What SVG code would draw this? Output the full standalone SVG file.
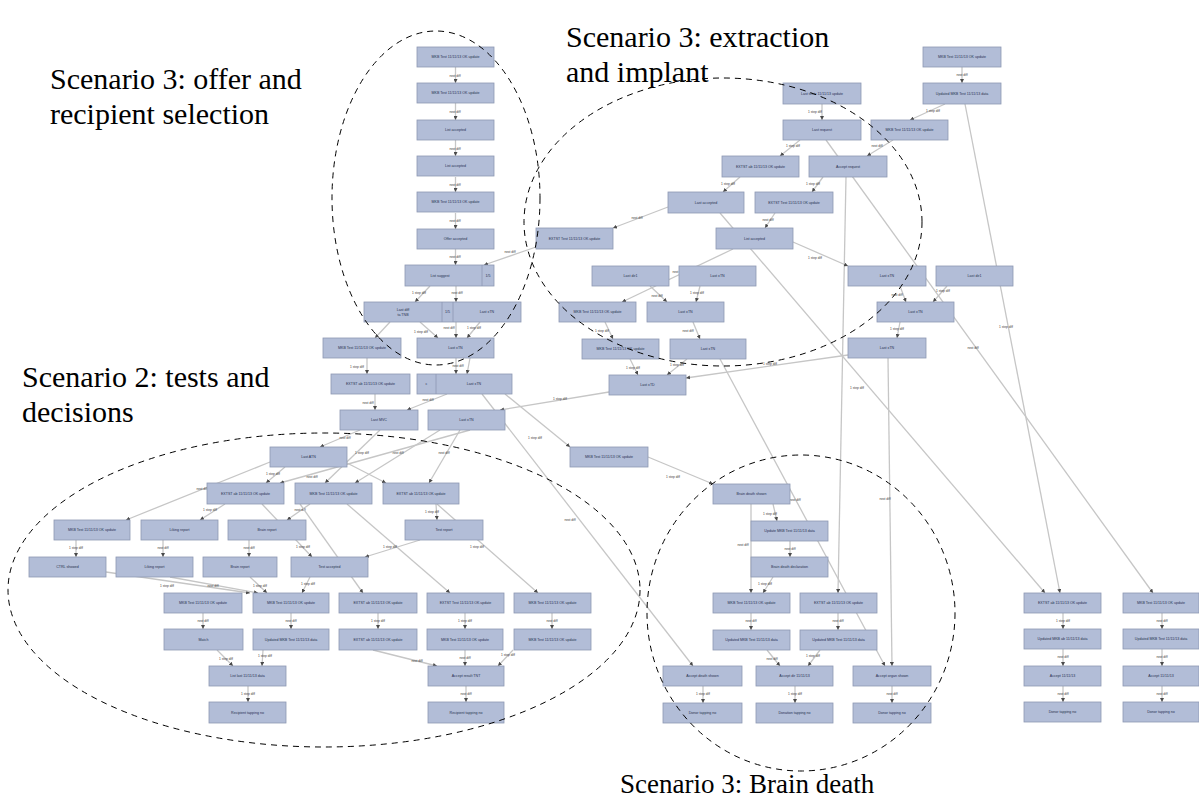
<svg xmlns="http://www.w3.org/2000/svg" width="1199" height="805" viewBox="0 0 1199 805">
<defs>
<marker id="a" viewBox="0 0 6 6" refX="6" refY="3" markerWidth="4" markerHeight="4" orient="auto" markerUnits="userSpaceOnUse"><path d="M0,0 L6,3 L0,6 z" fill="#4a4a4a"/></marker>
<style>
.n rect{fill:#b2bdd7;stroke:#8d98b2;stroke-width:0.8}
.n line{stroke:#8d98b2;stroke-width:0.8}
.n text{font-family:"Liberation Sans",Arial,sans-serif;font-size:3.6px;fill:#26304f;text-anchor:middle}
.e path{stroke:#c6c6c6;stroke-width:1.3;fill:none;marker-end:url(#a)}
.e text{font-family:"Liberation Sans",Arial,sans-serif;font-size:3.2px;fill:#3a3a3a;text-anchor:middle}
.g{fill:none;stroke:#000;stroke-width:1;stroke-dasharray:6,5}
.t{font-family:"Liberation Serif","Times New Roman",serif;font-size:30px;fill:#000}
</style>
</defs>
<rect width="1199" height="805" fill="#fff"/>

<g id="connectors" class="e">
<path d="M455.5,67 L455.5,83"/><text x="455" y="77">next diff</text>
<path d="M455.5,103 L455.5,120"/><text x="455" y="113">next diff</text>
<path d="M455.5,140 L455.5,156"/><text x="455" y="150">next diff</text>
<path d="M455.5,177 L455.5,192"/><text x="455" y="186">next diff</text>
<path d="M455.5,213 L455.5,229"/><text x="455" y="222">next diff</text>
<path d="M455.5,249 L455.5,265"/><text x="455" y="258">next diff</text>
<path d="M430,286 L415,302"/><text x="419" y="294">1 step diff</text>
<path d="M456,286 L456,302"/><text x="457" y="294">next diff</text>
<path d="M536,247 L484,265"/><text x="510" y="253">next diff</text>
<path d="M390,322 L375,338"/>
<path d="M420,322 L438,338"/><text x="421" y="333">1 step diff</text>
<path d="M456,322 L456,338"/><text x="449" y="329">next diff</text>
<path d="M480,322 L467,338"/><text x="474" y="329">1 step diff</text>
<path d="M367,358 L367,374"/><text x="357" y="368">1 step diff</text>
<path d="M456,358 L456,374"/><text x="458" y="367">next diff</text>
<path d="M470,358 L467,374"/>
<path d="M375,394 L375,410"/><text x="368" y="404">next diff</text>
<path d="M447,394 L407,410"/><text x="428" y="401">next diff</text>
<path d="M505,394 L570,447"/><text x="535" y="439">1 step diff</text>
<path d="M482,394 L693,666"/><text x="570" y="521">next diff</text>
<path d="M609,392 L500,410"/><text x="560" y="400">1 step diff</text>
<path d="M360,430 L320,447"/><text x="345" y="439">next diff</text>
<path d="M380,430 L325,483"/><text x="362" y="454">1 step diff</text>
<path d="M440,430 L355,483"/><text x="398" y="454">next diff</text>
<path d="M460,430 L429,483"/><text x="444" y="454">next diff</text>
<path d="M470,430 L280,483"/><text x="312" y="478">next diff</text>
<path d="M285,467 L266,483"/><text x="273" y="475">1 step diff</text>
<path d="M347,463 L386,483"/>
<path d="M270,462 L126,520"/><text x="202" y="490">next diff</text>
<path d="M225,504 L200,520"/><text x="210" y="511">1 step diff</text>
<path d="M310,504 L287,520"/><text x="300" y="511">next diff</text>
<path d="M262,504 L312,557"/><text x="303" y="548">1 step diff</text>
<path d="M300,504 L363,593"/>
<path d="M347,504 L450,593"/>
<path d="M436,504 L437,520"/><text x="432" y="513">1 step diff</text>
<path d="M437,504 L538,593"/><text x="477" y="548">1 step diff</text>
<path d="M76,540 L76,557"/><text x="76" y="549">1 step diff</text>
<path d="M163,540 L163,557"/><text x="163" y="549">next diff</text>
<path d="M249,540 L249,557"/><text x="249" y="549">next diff</text>
<path d="M420,540 L365,557"/><text x="390" y="548">1 step diff</text>
<path d="M106,572 L250,593"/><text x="167" y="587">1 step diff</text>
<path d="M170,577 L258,593"/><text x="213" y="587">next diff</text>
<path d="M250,577 L267,593"/><text x="260" y="587">1 step diff</text>
<path d="M310,577 L302,593"/><text x="308" y="585">1 step diff</text>
<path d="M203,613 L203,629"/><text x="203" y="622">next diff</text>
<path d="M291,613 L291,629"/><text x="291" y="622">next diff</text>
<path d="M378,613 L378,629"/><text x="378" y="622">1 step diff</text>
<path d="M465,613 L465,629"/><text x="465" y="622">1 step diff</text>
<path d="M552,613 L552,629"/><text x="552" y="622">next diff</text>
<path d="M217,650 L233,666"/><text x="226" y="660">1 step diff</text>
<path d="M263,650 L262,666"/><text x="265" y="657">1 step diff</text>
<path d="M373,650 L437,666"/><text x="417" y="662">next diff</text>
<path d="M465,650 L465,666"/><text x="465" y="659">next diff</text>
<path d="M513,650 L498,666"/><text x="508" y="656">1 step diff</text>
<path d="M248,686 L248,702"/><text x="248" y="695">1 step diff</text>
<path d="M466,686 L466,702"/><text x="466" y="695">next diff</text>

<path d="M962,67 L962,83"/><text x="962" y="76">next diff</text>
<path d="M945,104 L910,120"/><text x="933" y="112">1 step diff</text>
<path d="M965,104 L1060,593"/><text x="1006" y="328">1 step diff</text>
<path d="M822,104 L822,120"/><text x="815" y="113">1 step diff</text>
<path d="M800,140 L780,156"/><text x="793" y="147">1 step diff</text>
<path d="M893,140 L867,156"/><text x="877" y="147">next diff</text>
<path d="M826,140 L1153,593"/><text x="973" y="349">next diff</text>
<path d="M740,177 L723,192"/><text x="728" y="185">1 step diff</text>
<path d="M823,177 L812,192"/><text x="813" y="185">1 step diff</text>
<path d="M846,177 L838,593"/><text x="857" y="389">1 step diff</text>
<path d="M668,207 L613,228"/><text x="637" y="219">next diff</text>
<path d="M775,213 L765,228"/><text x="768" y="221">next diff</text>
<path d="M720,213 L1045,593"/>
<path d="M733,249 L622,302"/><text x="678" y="273">next diff</text>
<path d="M650,286 L667,302"/><text x="657" y="297">next diff</text>
<path d="M700,286 L696,302"/><text x="697" y="294">1 step diff</text>
<path d="M605,322 L613,339"/><text x="602" y="332">1 step diff</text>
<path d="M693,322 L700,339"/><text x="688" y="332">next diff</text>
<path d="M630,359 L638,375"/><text x="633" y="369">1 step diff</text>
<path d="M687,359 L667,375"/><text x="677" y="366">1 step diff</text>
<path d="M720,359 L885,666"/><text x="795" y="501">next diff</text>
<path d="M793,242 L848,266"/><text x="815" y="259">1 step diff</text>
<path d="M900,286 L906,302"/><text x="897" y="296">next diff</text>
<path d="M947,286 L933,302"/><text x="943" y="292">1 step diff</text>
<path d="M900,322 L897,338"/><text x="897" y="330">1 step diff</text>
<path d="M848,355 L686,378"/><text x="770" y="365">1 step diff</text>
<path d="M888,358 L892,666"/><text x="885" y="500">next diff</text>
<path d="M648,457 L713,484"/><text x="673" y="478">1 step diff</text>
<path d="M773,504 L777,521"/><text x="770" y="515">1 step diff</text>
<path d="M751,504 L751,593"/><text x="743" y="546">next diff</text>
<path d="M790,541 L790,557"/><text x="790" y="550">next diff</text>
<path d="M773,577 L763,593"/><text x="765" y="585">1 step diff</text>
<path d="M751,613 L751,630"/><text x="751" y="622">next diff</text>
<path d="M838,613 L838,630"/><text x="838" y="622">next diff</text>
<path d="M767,650 L780,666"/><text x="772" y="660">next diff</text>
<path d="M820,650 L808,666"/><text x="813" y="657">1 step diff</text>
<path d="M703,686 L703,703"/><text x="703" y="695">1 step diff</text>
<path d="M795,686 L795,703"/><text x="795" y="695">1 step diff</text>
<path d="M892,686 L892,703"/><text x="892" y="695">next diff</text>
<path d="M1063,613 L1063,629"/><text x="1063" y="622">1 step diff</text>
<path d="M1063,649 L1063,666"/><text x="1063" y="658">next diff</text>
<path d="M1063,686 L1063,702"/><text x="1063" y="695">next diff</text>
<path d="M1162,613 L1162,629"/><text x="1162" y="622">next diff</text>
<path d="M1162,649 L1162,666"/><text x="1162" y="658">next diff</text>
<path d="M1162,686 L1162,702"/><text x="1162" y="695">next diff</text>
</g>

<g id="A1" class="n"><rect x="417" y="47" width="77" height="20"/><text x="455.5" y="58.3">MKB Test 11/11/13 OK update</text></g>
<g id="A2" class="n"><rect x="417" y="83" width="77" height="20"/><text x="455.5" y="94.3">MKB Test 11/11/13 OK update</text></g>
<g id="A3" class="n"><rect x="417" y="120" width="77" height="20"/><text x="455.5" y="131.3">List accepted</text></g>
<g id="A4" class="n"><rect x="417" y="156" width="77" height="20"/><text x="455.5" y="167.3">List accepted</text></g>
<g id="A5" class="n"><rect x="417" y="192" width="77" height="20"/><text x="455.5" y="203.3">MKB Test 11/11/13 OK update</text></g>
<g id="A6" class="n"><rect x="417" y="229" width="77" height="20"/><text x="455.5" y="240.3">Offer accepted</text></g>
<g id="A7" class="n"><rect x="405" y="265" width="89" height="21"/><line x1="482" y1="265" x2="482" y2="286"/><text x="440" y="276.8">List suggest</text><text x="488" y="276.8">1/5</text></g>
<g id="R0" class="n"><rect x="364" y="302" width="157" height="20"/><line x1="442" y1="302" x2="442" y2="322"/><line x1="453" y1="302" x2="453" y2="322"/><text x="403" y="311">Last diff</text><text x="403" y="315.5">ta TNB</text><text x="447.5" y="313.3">1/5</text><text x="487" y="313.3">Last xTN</text></g>
<g id="B1" class="n"><rect x="323" y="338" width="78" height="20"/><text x="362" y="349.3">MKB Test 11/11/13 OK update</text></g>
<g id="B2" class="n"><rect x="417" y="338" width="77" height="20"/><text x="455.5" y="349.3">Last xTN</text></g>
<g id="C1" class="n"><rect x="331" y="374" width="79" height="20"/><text x="370.5" y="385.3">EXTST ab 11/11/13 OK update</text></g>
<g id="C2" class="n"><rect x="417" y="374" width="95" height="20"/><line x1="436" y1="374" x2="436" y2="394"/><text x="426.5" y="385.3">c</text><text x="474" y="385.3">Last xTN</text></g>
<g id="D1" class="n"><rect x="340" y="410" width="78" height="20"/><text x="379" y="421.3">Last MVC</text></g>
<g id="D2" class="n"><rect x="428" y="410" width="77" height="20"/><text x="466.5" y="421.3">Last xTN</text></g>
<g id="E1" class="n"><rect x="270" y="447" width="77" height="20"/><text x="308.5" y="458.3">Last ATN</text></g>
<g id="E2" class="n"><rect x="570" y="447" width="78" height="20"/><text x="609" y="458.3">MKB Test 11/11/13 OK update</text></g>
<g id="F1" class="n"><rect x="207" y="483" width="77" height="21"/><text x="245.5" y="494.8">EXTST ab 11/11/13 OK update</text></g>
<g id="F2" class="n"><rect x="295" y="483" width="77" height="21"/><text x="333.5" y="494.8">MKB Test 11/11/13 OK update</text></g>
<g id="F3" class="n"><rect x="383" y="483" width="76" height="21"/><text x="421" y="494.8">EXTST ab 11/11/13 OK update</text></g>
<g id="G1" class="n"><rect x="54" y="520" width="76" height="20"/><text x="92" y="531.3">MKB Test 11/11/13 OK update</text></g>
<g id="G2" class="n"><rect x="141" y="520" width="77" height="20"/><text x="179.5" y="531.3">Liking report</text></g>
<g id="G3" class="n"><rect x="228" y="520" width="78" height="20"/><text x="267" y="531.3">Brain report</text></g>
<g id="G4" class="n"><rect x="405" y="520" width="78" height="20"/><text x="444" y="531.3">Test report</text></g>
<g id="H1" class="n"><rect x="29" y="557" width="77" height="20"/><text x="67.5" y="568.3">CTRL showed</text></g>
<g id="H2" class="n"><rect x="116" y="557" width="77" height="20"/><text x="154.5" y="568.3">Liking report</text></g>
<g id="H3" class="n"><rect x="203" y="557" width="74" height="20"/><text x="240" y="568.3">Brain report</text></g>
<g id="H4" class="n"><rect x="291" y="557" width="77" height="20"/><text x="329.5" y="568.3">Test accepted</text></g>
<g id="I1" class="n"><rect x="164" y="593" width="78" height="20"/><text x="203" y="604.3">MKB Test 11/11/13 OK update</text></g>
<g id="I2" class="n"><rect x="253" y="593" width="76" height="20"/><text x="291" y="604.3">MKB Test 11/11/13 OK update</text></g>
<g id="I3" class="n"><rect x="339" y="593" width="78" height="20"/><text x="378" y="604.3">EXTST ab 11/11/13 OK update</text></g>
<g id="I4" class="n"><rect x="427" y="593" width="77" height="20"/><text x="465.5" y="604.3">EXTST Test 11/11/13 OK update</text></g>
<g id="I5" class="n"><rect x="514" y="593" width="77" height="20"/><text x="552.5" y="604.3">MKB Test 11/11/13 OK update</text></g>
<g id="J1" class="n"><rect x="164" y="629" width="79" height="21"/><text x="203.5" y="640.8">Match</text></g>
<g id="J2" class="n"><rect x="253" y="629" width="76" height="21"/><text x="291" y="640.8">Updated MKB Test 11/11/13 data</text></g>
<g id="J3" class="n"><rect x="339" y="629" width="78" height="21"/><text x="378" y="640.8">EXTST ab 11/11/13 OK update</text></g>
<g id="J4" class="n"><rect x="427" y="629" width="76" height="21"/><text x="465" y="640.8">MKB Test 11/11/13 OK update</text></g>
<g id="J5" class="n"><rect x="514" y="629" width="77" height="21"/><text x="552.5" y="640.8">MKB Test 11/11/13 OK update</text></g>
<g id="K1" class="n"><rect x="209" y="666" width="77" height="20"/><text x="247.5" y="677.3">List last 11/11/13 data</text></g>
<g id="K2" class="n"><rect x="428" y="666" width="76" height="20"/><text x="466" y="677.3">Accept result TNT</text></g>
<g id="L1" class="n"><rect x="209" y="702" width="77" height="21"/><text x="247.5" y="713.8">Recipient tapping no</text></g>
<g id="L2" class="n"><rect x="428" y="702" width="76" height="21"/><text x="466" y="713.8">Recipient tapping no</text></g>

<g id="T1" class="n"><rect x="923" y="47" width="78" height="20"/><text x="962" y="58.3">MKB Test 11/11/13 OK update</text></g>
<g id="T2" class="n"><rect x="923" y="83" width="78" height="21"/><text x="962" y="94.8">Updated MKB Test 11/11/13 data</text></g>
<g id="P1" class="n"><rect x="783" y="83" width="78" height="21"/><text x="822" y="94.8">Last tests 11/11/13 update</text></g>
<g id="P2" class="n"><rect x="783" y="120" width="78" height="20"/><text x="822" y="131.3">Last request</text></g>
<g id="R1" class="n"><rect x="871" y="120" width="77" height="20"/><text x="909.5" y="131.3">MKB Test 11/11/13 OK update</text></g>
<g id="Q1" class="n"><rect x="722" y="156" width="77" height="21"/><text x="760.5" y="167.8">EXTST ab 11/11/13 OK update</text></g>
<g id="Q2" class="n"><rect x="809" y="156" width="78" height="21"/><text x="848" y="167.8">Accept request</text></g>
<g id="S1" class="n"><rect x="668" y="192" width="76" height="21"/><text x="706" y="203.8">Last accepted</text></g>
<g id="S2" class="n"><rect x="755" y="192" width="78" height="21"/><text x="794" y="203.8">EXTST Test 11/11/13 OK update</text></g>
<g id="S3" class="n"><rect x="536" y="228" width="77" height="21"/><text x="574.5" y="239.8">EXTST Test 11/11/13 OK update</text></g>
<g id="S4" class="n"><rect x="716" y="228" width="77" height="21"/><text x="754.5" y="239.8">List accepted</text></g>
<g id="U1" class="n"><rect x="592" y="266" width="77" height="20"/><text x="630.5" y="277.3">Last dir1</text></g>
<g id="U2" class="n"><rect x="679" y="266" width="77" height="20"/><text x="717.5" y="277.3">Last xTN</text></g>
<g id="Y1" class="n"><rect x="848" y="266" width="78" height="20"/><text x="887" y="277.3">Last xTN</text></g>
<g id="Y2" class="n"><rect x="936" y="266" width="77" height="20"/><text x="974.5" y="277.3">Last dir1</text></g>
<g id="V1" class="n"><rect x="559" y="302" width="77" height="20"/><text x="597.5" y="313.3">MKB Test 11/11/13 OK update</text></g>
<g id="V2" class="n"><rect x="647" y="302" width="77" height="20"/><text x="685.5" y="313.3">Last xTN</text></g>
<g id="Y3" class="n"><rect x="877" y="302" width="77" height="20"/><text x="915.5" y="313.3">Last xTN</text></g>
<g id="W1" class="n"><rect x="582" y="339" width="77" height="20"/><text x="620.5" y="350.3">MKB Test 11/11/13 OK update</text></g>
<g id="W2" class="n"><rect x="670" y="339" width="76" height="20"/><text x="708" y="350.3">Last xTN</text></g>
<g id="Y4" class="n"><rect x="848" y="338" width="78" height="20"/><text x="887" y="349.3">Last xTN</text></g>
<g id="X1" class="n"><rect x="609" y="375" width="77" height="20"/><text x="647.5" y="386.3">Last xTD</text></g>

<g id="Z1" class="n"><rect x="713" y="484" width="77" height="20"/><text x="751.5" y="495.3">Brain death shown</text></g>
<g id="Z2" class="n"><rect x="751" y="521" width="77" height="20"/><text x="789.5" y="532.3">Update MKB Test 11/11/13 data</text></g>
<g id="Z3" class="n"><rect x="751" y="557" width="77" height="20"/><text x="789.5" y="568.3">Brain death declaration</text></g>
<g id="Z4" class="n"><rect x="713" y="593" width="77" height="20"/><text x="751.5" y="604.3">MKB Test 11/11/13 OK update</text></g>
<g id="Z5" class="n"><rect x="800" y="593" width="77" height="20"/><text x="838.5" y="604.3">EXTST ab 11/11/13 OK update</text></g>
<g id="Z6" class="n"><rect x="713" y="630" width="77" height="20"/><text x="751.5" y="641.3">Updated MKB Test 11/11/13 data</text></g>
<g id="Z7" class="n"><rect x="800" y="630" width="77" height="20"/><text x="838.5" y="641.3">Updated MKB Test 11/11/13 data</text></g>
<g id="Z8" class="n"><rect x="663" y="666" width="79" height="20"/><text x="702.5" y="677.3">Accept death shown</text></g>
<g id="Z9" class="n"><rect x="756" y="666" width="77" height="20"/><text x="794.5" y="677.3">Accept dir 11/11/13</text></g>
<g id="Z10" class="n"><rect x="853" y="666" width="78" height="20"/><text x="892" y="677.3">Accept organ shown</text></g>
<g id="Z11" class="n"><rect x="663" y="703" width="79" height="20"/><text x="702.5" y="714.3">Donor tapping no</text></g>
<g id="Z12" class="n"><rect x="756" y="703" width="77" height="20"/><text x="794.5" y="714.3">Donation tapping no</text></g>
<g id="Z13" class="n"><rect x="853" y="703" width="78" height="20"/><text x="892" y="714.3">Donor tapping no</text></g>

<g id="RA1" class="n"><rect x="1024" y="593" width="77" height="20"/><text x="1062.5" y="604.3">EXTST ab 11/11/13 OK update</text></g>
<g id="RA2" class="n"><rect x="1024" y="629" width="77" height="20"/><text x="1062.5" y="640.3">Updated MKB ab 11/11/13 data</text></g>
<g id="RA3" class="n"><rect x="1024" y="666" width="77" height="20"/><text x="1062.5" y="677.3">Accept 11/11/13</text></g>
<g id="RA4" class="n"><rect x="1024" y="702" width="77" height="20"/><text x="1062.5" y="713.3">Donor tapping no</text></g>
<g id="RB1" class="n"><rect x="1123" y="593" width="76" height="20"/><text x="1161" y="604.3">MKB Test 11/11/13 OK update</text></g>
<g id="RB2" class="n"><rect x="1123" y="629" width="76" height="20"/><text x="1161" y="640.3">Updated MKB Test 11/11/13 data</text></g>
<g id="RB3" class="n"><rect x="1123" y="666" width="76" height="20"/><text x="1161" y="677.3">Accept 11/11/13</text></g>
<g id="RB4" class="n"><rect x="1123" y="702" width="76" height="20"/><text x="1161" y="713.3">Donor tapping no</text></g>

<g id="groups">
<ellipse class="g" cx="436" cy="198" rx="104" ry="167"/>
<ellipse class="g" cx="723" cy="222" rx="199" ry="144"/>
<ellipse class="g" cx="324" cy="590" rx="316" ry="157"/>
<ellipse class="g" cx="801" cy="613" rx="154" ry="158"/>
<text class="t" x="50" y="89">Scenario 3: offer and</text>
<text class="t" x="50" y="124">recipient selection</text>
<text class="t" x="566" y="47">Scenario 3: extraction</text>
<text class="t" x="566" y="82">and implant</text>
<text class="t" x="22" y="387">Scenario 2: tests and</text>
<text class="t" x="22" y="422">decisions</text>
<text class="t" x="620" y="793" style="font-size:27px">Scenario 3: Brain death</text>
</g>
</svg>
